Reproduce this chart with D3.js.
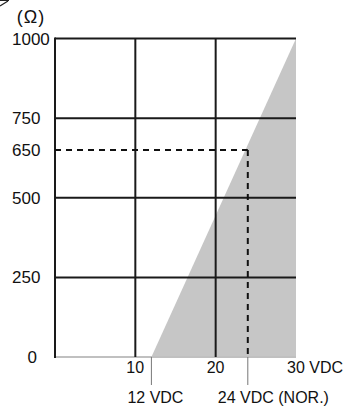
<!DOCTYPE html>
<html>
<head>
<meta charset="utf-8">
<script src="https://cdn.jsdelivr.net/npm/d3@7"></script>
<style>
  body { margin: 0; background: #fff; }
  text { font-family: "Liberation Sans", Arial, sans-serif; fill: #111; }
</style>
</head>
<body>
<svg id="chart" viewBox="0 0 345 410" width="345" height="410"></svg>
<script>
// coil resistance vs. supply voltage
const yTicks = [0, 250, 500, 650, 750, 1000];
const gridY = [250, 500, 750, 1000];
const xTicks = [10, 20, 30];
const gridX = [10, 20];
const shadeEdge = [[12, 0], [30, 1000], [30, 0]];   // usable area
const rated = {v: 24, r: 650};
const markers = [{v: 12, label: "12 VDC"}, {v: 24, label: "24 VDC (NOR.)"}];

let svg = d3.select("#chart");

const x = d3.scaleLinear().domain([0, 30]).range([55, 296]);
const y = d3.scaleLinear().domain([0, 1000]).range([357, 38.5]);

// shaded region
svg.append("path")
    .datum(shadeEdge)
    .attr("d", d3.line().x(d => x(d[0])).y(d => y(d[1])))
    .style("fill", "#c6c6c6");

// bottom axis line (light)
svg.append("line")
    .attr("x1", x(0)).attr("x2", x(30))
    .attr("y1", y(0)).attr("y2", y(0))
    .style("stroke", "#c0c0c0")
    .style("stroke-width", 2);

// horizontal grid
svg.selectAll("line.gy")
    .data(gridY)
    .enter()
    .append("line")
    .attr("class", "gy")
    .attr("x1", x(0)).attr("x2", x(30))
    .attr("y1", d => y(d)).attr("y2", d => y(d))
    .style("stroke", "#1a1a1a")
    .style("stroke-width", 2);

// vertical grid
svg.selectAll("line.gx")
    .data(gridX)
    .enter()
    .append("line")
    .attr("class", "gx")
    .attr("x1", d => x(d)).attr("x2", d => x(d))
    .attr("y1", y(1000)).attr("y2", y(0))
    .style("stroke", "#1a1a1a")
    .style("stroke-width", 2);

// left axis
svg.append("line")
    .attr("x1", x(0)).attr("x2", x(0))
    .attr("y1", y(1000) - 1).attr("y2", y(0) + 1)
    .style("stroke", "#1a1a1a")
    .style("stroke-width", 2);

// rated point dashed guides
svg.append("line")
    .attr("x1", x(0)).attr("x2", x(rated.v))
    .attr("y1", y(rated.r)).attr("y2", y(rated.r))
    .style("stroke", "#111")
    .style("stroke-width", 2)
    .style("stroke-dasharray", "6,5");
svg.append("line")
    .attr("x1", x(rated.v)).attr("x2", x(rated.v))
    .attr("y1", y(rated.r)).attr("y2", y(0))
    .style("stroke", "#111")
    .style("stroke-width", 2)
    .style("stroke-dasharray", "6,5");

// marker leaders below axis
svg.selectAll("line.mk")
    .data(markers)
    .enter()
    .append("line")
    .attr("class", "mk")
    .attr("x1", d => x(d.v)).attr("x2", d => x(d.v))
    .attr("y1", y(0)).attr("y2", y(0) + 28)
    .style("stroke", "#777")
    .style("stroke-width", 1);

// y labels
svg.selectAll("text.yl")
    .data(yTicks)
    .enter()
    .append("text")
    .attr("class", "yl")
    .attr("x", d => d === 0 ? 37 : 12)
    .attr("y", d => y(d) + 6)
    .attr("text-anchor", d => d === 0 ? "end" : "start")
    .style("font-size", "17px")
    .text(d => d);

svg.append("text")
    .attr("x", 31).attr("y", 23)
    .attr("text-anchor", "middle")
    .style("font-size", "18px")
    .style("letter-spacing", "1px")
    .text("(Ω)");

// stray corner mark
svg.append("path")
    .attr("d", "M0,6 L8,1 M0,0.5 L9,0.5")
    .style("fill", "none")
    .style("stroke", "#222")
    .style("stroke-width", 1.2);

// x labels
svg.selectAll("text.xl")
    .data(xTicks)
    .enter()
    .append("text")
    .attr("class", "xl")
    .attr("x", d => x(d) - 9)
    .attr("y", y(0) + 16)
    .style("font-size", "16px")
    .text(d => d === 30 ? d + " VDC" : d);

svg.selectAll("text.ml")
    .data(markers)
    .enter()
    .append("text")
    .attr("class", "ml")
    .attr("x", (d, i) => x(d.v) - (i === 0 ? 24 : 30))
    .attr("y", y(0) + 46)
    .style("font-size", "16px")
    .text(d => d.label);
</script>
</body>
</html>
